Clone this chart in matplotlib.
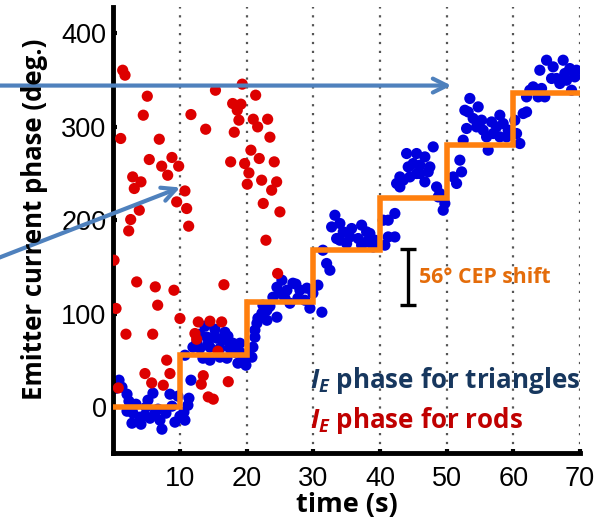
import matplotlib
matplotlib.use("Agg")
from matplotlib import pyplot as plt

# Blue points: I_E phase for triangles (time s, phase deg)
tri_t = [0.38, 0.83, 1.27, 2.03, 2.32, 2.03, 2.92, 3.37, 3.97, 4.12, 4.87, 5.17, 5.47, 5.92, 6.22,
         6.97, 7.27, 7.87, 8.47, 8.77, 9.22, 9.97, 10.72, 11.17, 11.32, 2.77, 6.67, 9.67, 10.57, 4.72,
         10.72, 11.62, 11.92, 12.97, 12.97, 13.42, 14.02, 14.47, 14.47, 14.92, 15.52, 15.97, 15.97, 16.42, 17.02,
         17.47, 17.47, 17.92, 18.67, 18.97, 18.97, 19.87, 12.52, 13.72, 15.22, 16.72, 18.22, 19.42, 14.17, 17.17,
         20.17, 20.77, 20.92, 21.22, 21.22, 21.52, 21.67, 22.27, 22.42, 23.02, 23.02, 23.47, 23.92, 24.52, 24.52,
         24.97, 25.27, 26.02, 26.47, 26.92, 27.37, 27.97, 28.72, 29.02, 29.47, 29.92, 30.67, 31.27, 27.67, 25.72,
         31.98, 32.47, 33.22, 32.73, 33.97, 34.47, 33.48, 35.47, 35.73, 37.23, 37.98, 36.72, 38.47, 39.22, 37.98,
         38.97, 37.23, 34.98, 33.97, 40.47, 41.22, 42.22, 40.72, 31.42,
         41.22, 42.22, 42.48, 42.97, 44.22, 43.98, 45.48, 46.72, 44.97, 45.97, 47.47, 47.97, 45.48, 46.72, 44.47,
         42.97, 48.48, 48.97, 48.72, 49.72, 49.47, 47.22, 45.97, 43.47,
         50.97, 51.48, 51.97, 52.23, 52.47, 52.98, 53.22, 53.47, 53.97, 54.72, 55.23, 55.47, 55.98, 56.22, 56.73,
         57.48, 57.97, 58.47, 56.97, 58.98, 59.22, 52.72, 54.48, 57.97,
         60.22, 60.48, 60.97, 61.47, 61.98, 61.98, 62.47, 62.97, 63.72, 64.23, 64.72, 63.97, 64.98, 65.97, 66.48,
         67.47, 67.72, 68.47, 69.22, 68.73, 66.97, 65.73, 69.48, 67.98]
tri_phase = [20.3, 28.9, 21.4, 13.9, 6.4, -4.3, -6.4, 3.2, -10.7, -18.2, 0.0, 7.5, -11.8, 15.0, -6.4,
             -13.9, -23.5, -6.4, 13.9, 1.1, -16.0, -9.6, -13.9, 2.1, 9.6, -17.1, -2.1, 11.8, -5.3, -8.6,
             55.6, 28.9, 64.2, 78.1, 63.1, 52.4, 74.9, 64.2, 50.3, 74.9, 73.8, 63.1, 53.5, 71.7, 52.4,
             68.4, 63.1, 68.4, 47.1, 68.4, 58.8, 44.9, 69.5, 86.6, 83.4, 80.2, 58.8, 53.5, 67.4, 75.9,
             57.8, 53.5, 64.2, 74.9, 82.4, 89.8, 95.2, 100.5, 109.1, 103.7, 93.0, 108.0, 117.6, 96.3, 128.3,
             121.9, 135.8, 125.1, 111.2, 132.6, 131.6, 125.1, 114.4, 127.3, 105.9, 121.9, 130.5, 101.6, 116.6, 116.6,
             153.7, 146.5, 205.3, 192.8, 196.5, 187.5, 180.4, 182.1, 191.1, 194.7, 187.5, 180.4, 185.8, 178.6, 176.8,
             171.4, 173.3, 175.1, 178.6, 200.0, 182.1, 182.1, 173.3, 167.9,
             200.0, 207.2, 239.3, 246.3, 257.0, 271.3, 271.3, 267.7, 260.6, 258.8, 257.0, 278.4, 249.9, 241.0, 246.3,
             235.6, 235.6, 228.6, 224.9, 217.9, 210.7, 251.7, 249.9, 242.8,
             246.3, 239.3, 264.2, 251.7, 285.6, 298.1, 315.8, 330.2, 308.8, 321.2, 307.0, 296.3, 289.1, 274.9, 305.1,
             299.8, 312.3, 303.4, 292.7, 289.1, 296.3, 317.6, 299.8, 289.1,
             306.9, 292.7, 282.0, 314.1, 315.8, 331.9, 339.0, 342.6, 331.9, 340.9, 331.9, 360.4, 371.1, 364.0, 351.6,
             371.1, 356.9, 362.2, 353.3, 339.0, 346.2, 351.6, 360.4, 349.7]

# Red points: I_E phase for rods
rod_t = [1.38, 1.73, 5.07, 4.47, 11.62, 13.83, 1.08, 6.87, 5.37, 8.77, 7.23, 9.78, 8.13, 2.88, 4.12,
         3.12, 10.72, 9.48, 10.98, 3.87, 2.58, 2.28, 11.28, 0.08, 3.48, 9.07, 6.27, 6.63, 0.38, 9.97,
         1.87, 5.88, 12.72, 14.47, 16.23, 12.22, 12.48, 7.98, 4.72, 8.47, 5.73, 7.47, 0.72, 13.47, 13.17,
         14.22, 14.97, 15.30, 19.32, 21.33, 17.88, 19.12, 18.57, 18.82, 20.97, 23.13, 21.63, 18.12, 23.47, 20.62,
         21.87, 17.58, 19.68, 24.12, 20.32, 22.23, 24.48, 20.07, 23.73, 22.47, 24.97, 22.87, 16.57, 24.63, 15.67,
         17.22]
rod_phase = [360.4, 355.1, 332.6, 312.3, 313.0, 297.3, 287.4, 286.6, 264.9, 267.1, 257.8, 257.8, 248.1, 246.3, 241.0,
             233.9, 231.3, 219.6, 212.5, 210.7, 200.7, 188.6, 193.6, 157.2, 134.0, 125.1, 128.7, 109.1, 105.6, 94.9,
             78.1, 78.1, 91.2, 92.0, 91.2, 78.8, 72.7, 50.3, 36.0, 36.0, 26.0, 23.5, 20.6, 33.7, 24.6,
             11.0, 8.6, 339.0, 345.5, 333.7, 324.8, 324.1, 317.6, 307.0, 308.0, 308.0, 299.8, 294.1, 288.8, 274.9,
             266.0, 262.4, 260.6, 262.4, 250.6, 242.8, 241.0, 238.5, 232.1, 217.9, 208.9, 178.6, 131.0, 143.0, 59.9,
             27.3]

# CEP step function
step_t = [0.2, 10, 20, 30, 40, 50, 60, 70]
step_phase = [0, 56, 112, 168, 224, 280, 336, 336]

xticks = [10, 20, 30, 40, 50, 60, 70]
yticks = [0, 100, 200, 300, 400]

WEIGHT = 'bold'

plt.rcParams['mathtext.fontset'] = 'custom'
plt.rcParams['mathtext.it'] = 'Open Sans:italic:bold'
plt.rcParams['mathtext.rm'] = 'Open Sans:bold'

fig = plt.figure(figsize=(6.05, 5.2), dpi=100)
ax = fig.add_axes([0.1876, 0.1288, 0.7711, 0.8577])

# Dotted vertical grid
for xv in xticks:
    ax.axvline(xv, color='#555555', lw=1.6, ls=(0, (1, 3)), zorder=0)

ax.scatter(tri_t, tri_phase, s=65, color='#0000dd', edgecolors='none', zorder=2)
ax.scatter(rod_t, rod_phase, s=65, color='#dd0000', edgecolors='none', zorder=3)
ax.step(step_t, step_phase, where='post', color='#ff7f0e', lw=4, zorder=4, solid_joinstyle='miter')

# Arrows reaching off the left edge
arrow_kw = dict(arrowstyle='->,head_length=1.0,head_width=0.5', color='#4f81bd', lw=3,
                shrinkA=0, shrinkB=0)
ax.annotate('', xy=(50.7, 344), xytext=(-17.5, 344), arrowprops=arrow_kw,
            annotation_clip=False, zorder=6)
ax.annotate('', xy=(10.0, 235), xytext=(-17.5, 159), arrowprops=arrow_kw,
            annotation_clip=False, zorder=6)

# 56 deg scale bar
ax.errorbar([44.2], [139.5], yerr=[30], color='black', lw=2.4, capsize=6, capthick=2.4, zorder=5)
ax.text(45.9, 139, '56° CEP shift', color='#e46c0a', fontsize=15.3, fontweight=WEIGHT,
        family='Open Sans', va='center', ha='left')

ax.text(29.5, 29, '$I_E$ phase for triangles', color='#17375e', fontsize=18.7, fontweight=WEIGHT,
        family='Open Sans', va='center', ha='left')
ax.text(29.5, -14, '$I_E$ phase for rods', color='#c00000', fontsize=18.7, fontweight=WEIGHT,
        family='Open Sans', va='center', ha='left')

ax.set_xlim(0, 70)
ax.set_ylim(-49, 428)
ax.set_xticks(xticks)
ax.set_yticks(yticks)
ax.tick_params(direction='in', length=3, width=3, labelsize=19.5, pad=5)
ax.tick_params(axis='x', pad=9)
for lab in ax.get_xticklabels() + ax.get_yticklabels():
    lab.set_family('Liberation Sans')

for side in ['top', 'right']:
    ax.spines[side].set_visible(False)
for side in ['left', 'bottom']:
    ax.spines[side].set_linewidth(3.5)

ax.set_xlabel('time (s)', fontsize=19.5, fontweight=WEIGHT, family='Open Sans', labelpad=0)
fig.text(0.057, 0.579, 'Emitter current phase (deg.)', rotation=90, fontsize=18.5, fontweight=WEIGHT,
         family='Open Sans', ha='center', va='center')

plt.savefig('out.png')
